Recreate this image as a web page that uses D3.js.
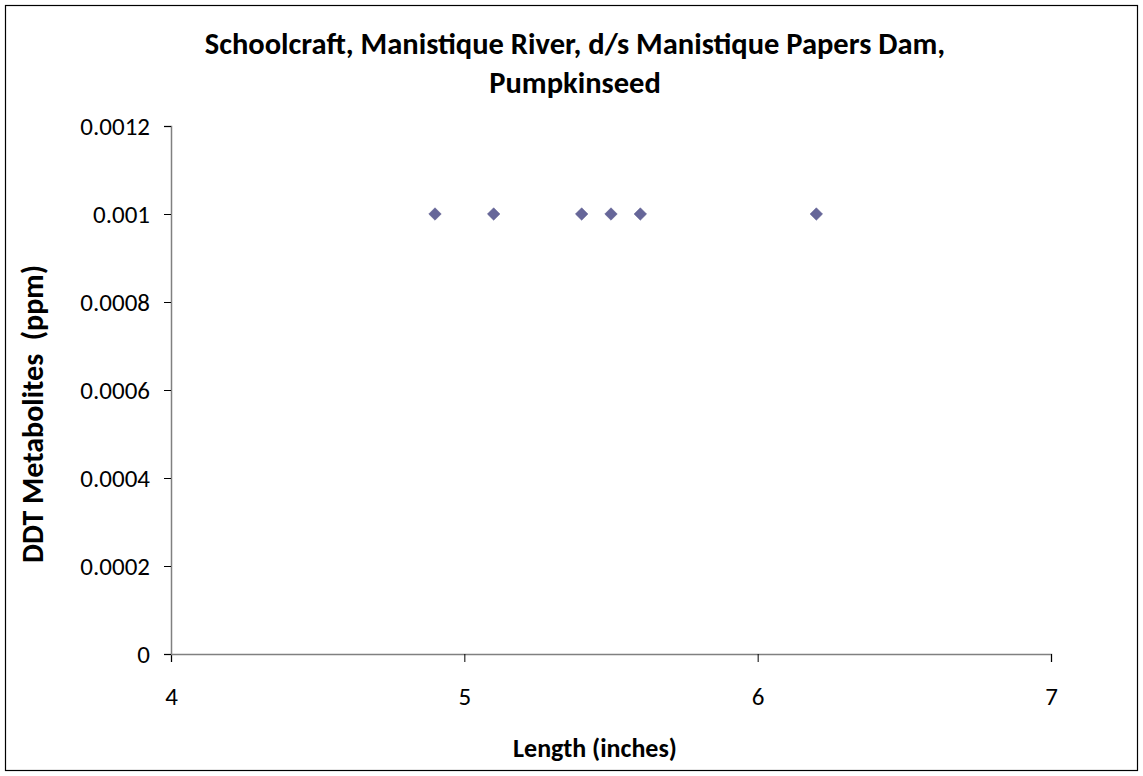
<!DOCTYPE html>
<html><head><meta charset="utf-8">
<script src="https://cdn.jsdelivr.net/npm/d3@7"></script>
<style>body{margin:0;background:#fff}svg{display:block}</style>
</head><body>
<script>
const lengths = [4.9, 5.1, 5.4, 5.5, 5.6, 6.2];
const ddt = [0.001, 0.001, 0.001, 0.001, 0.001, 0.001];
const xTicks = [4, 5, 6, 7];
const yTicks = [0, 0.0002, 0.0004, 0.0006, 0.0008, 0.001, 0.0012];
const titleLines = ["Schoolcraft, Manistique River, d/s Manistique Papers Dam,", "Pumpkinseed"];
const xLabel = "Length (inches)";
const yLabel = "DDT Metabolites  (ppm)";

const W = 1143, H = 776;
const font = "Carlito, Calibri, Lato, 'Open Sans', sans-serif";
const svg = d3.select("body").append("svg").attr("width", W).attr("height", H);
svg.append("rect").attr("x", 5.5).attr("y", 5.5).attr("width", W - 11).attr("height", H - 11)
  .attr("fill", "#fff").attr("stroke", "#000").attr("stroke-width", 1.2);

const x = d3.scaleLinear().domain([4, 7]).range([171, 1051]);
const y = d3.scaleLinear().domain([0, 0.0012]).range([654, 126]);

const xAxis = svg.append("g").attr("transform", "translate(0,654)")
  .call(d3.axisBottom(x).tickValues(xTicks).tickFormat(d3.format("d")).tickSize(8).tickPadding(25));
const yAxis = svg.append("g").attr("transform", "translate(171,0)")
  .call(d3.axisLeft(y).tickValues(yTicks).tickFormat(d => String(+d.toFixed(4))).tickSize(7).tickPadding(14));
[xAxis, yAxis].forEach(g => {
  g.select(".domain").attr("stroke", "#808080").attr("stroke-width", 1.5);
  g.selectAll(".tick line").attr("stroke", "#000");
  g.selectAll(".tick text").attr("font-family", font).attr("font-size", 25).attr("fill", "#000");
});

const diamond = d3.symbol().type(d3.symbolDiamond2).size(100);
svg.append("g").selectAll("path").data(lengths).join("path")
  .attr("transform", (d, i) => `translate(${x(d)},${y(ddt[i])})`)
  .attr("d", diamond).attr("fill", "#666699").attr("stroke", "#5a5a8c").attr("stroke-width", 0.5);

svg.append("g").selectAll("text").data(titleLines).join("text")
  .attr("x", 575).attr("y", (d, i) => 54 + i * 39).attr("text-anchor", "middle")
  .attr("font-family", font).attr("font-weight", "bold").attr("font-size", 30.5).text(d => d);

svg.append("text").attr("x", 595).attr("y", 757).attr("text-anchor", "middle")
  .attr("font-family", font).attr("font-weight", "bold").attr("font-size", 26).text(xLabel);

svg.append("text").attr("transform", "translate(43,414) rotate(-90)").attr("text-anchor", "middle")
  .attr("xml:space", "preserve").style("white-space", "pre")
  .attr("font-family", font).attr("font-weight", "bold").attr("font-size", 30).text(yLabel);
</script>
</body></html>
